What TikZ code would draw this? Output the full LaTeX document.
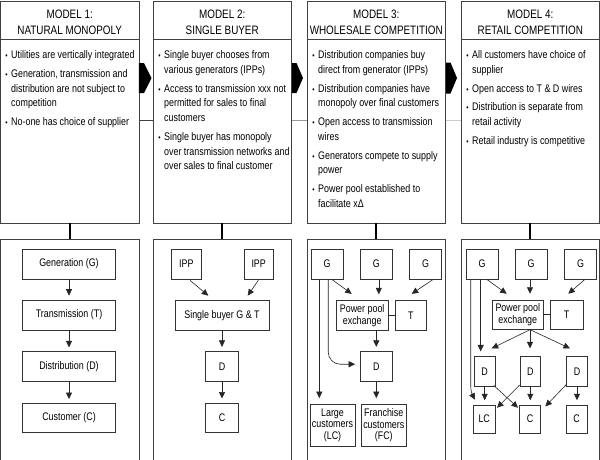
\documentclass[tikz,border=0pt]{standalone}
\usepackage{fontspec}
\setmainfont{Liberation Sans}[FakeStretch=0.81]
\usetikzlibrary{arrows.meta,calc}
\begin{document}
\begin{tikzpicture}[x=1pt,y=-1pt,
  panel/.style={draw=black!75, fill=white, line width=0.8pt, inner sep=0pt, minimum width=138.5pt},
  box/.style={draw=black!80, fill=white, line width=0.6pt, inner sep=0pt, align=center, font=\fontsize{11}{11.7}\selectfont, text=black},
  bsz/.style 2 args={minimum width=#1, minimum height=#2},
  ttl/.style={align=center, font=\fontsize{12.2}{16}\selectfont, inner sep=0pt, text=black},
  itm/.style={anchor=base west, align=left, inner sep=0pt, font=\fontsize{11}{14.8}\selectfont, text=black},
  bul/.style={anchor=base, inner sep=0pt, font=\fontsize{8}{8}\selectfont, text=black},
  arr/.style={-{Triangle[length=6.5pt,width=6pt]}, line width=0.6pt, draw=black!85},
  link/.style={line width=2pt, draw=black},
  conn/.style={line width=0.6pt, draw=black!85},
  divider/.style={line width=0.8pt, draw=black!75},
  chev/.style={fill=black, draw=none},
]
\useasboundingbox (0,0) rectangle (600,459);
\fill[white] (0,0) rectangle (600,459);

% faint background rule
\draw[black!75, line width=0.8pt] (138,120) -- (153,120);
\draw[black!40, line width=0.8pt] (291,120) -- (307,120);
\draw[black!20, line width=0.8pt] (445,120) -- (462,120);

% top panels
\node[panel, minimum height=222pt] (top1) at (69.7,112) {};
\node[panel, minimum height=222pt] (top2) at (222.2,112) {};
\node[panel, minimum height=222pt] (top3) at (376.2,112) {};
\node[panel, minimum height=222pt] (top4) at (530.3,112) {};
\foreach \p in {top1,top2,top3,top4}{
  \draw[divider] ($(\p.north west)+(0,39)$) -- ($(\p.north east)+(0,39)$);
}
% bottom panels
\node[panel, minimum height=223pt] (bot1) at (69.7,350.5) {};
\node[panel, minimum height=223pt] (bot2) at (222.2,350.5) {};
\node[panel, minimum height=223pt] (bot3) at (376.2,350.5) {};
\node[panel, minimum height=223pt] (bot4) at (530.3,350.5) {};
\draw[link] (top1.south) -- (bot1.north);
\draw[link] (top2.south) -- (bot2.north);
\draw[link] (top3.south) -- (bot3.north);
\draw[link] (top4.south) -- (bot4.north);

% chevrons
\fill[chev] (138.9,63) -- (144,63) -- (151.5,78) -- (144,93) -- (138.9,93) -- cycle;
\fill[chev] (292,63) -- (296.5,63) -- (303,78) -- (296.5,93) -- (292,93) -- cycle;
\fill[chev] (446,62.5) -- (450.5,62.5) -- (457,78) -- (450.5,93.5) -- (446,93.5) -- cycle;

% titles
\node[ttl] (h1) at (69.7,22) {MODEL 1:\\NATURAL MONOPOLY};
\node[ttl] (h2) at (222.2,22) {MODEL 2:\\SINGLE BUYER};
\node[ttl] (h3) at (376.2,22) {MODEL 3:\\WHOLESALE COMPETITION};
\node[ttl] (h4) at (530.3,22) {MODEL 4:\\RETAIL COMPETITION};

% panel 1 bullets (node placed at baseline of its last line)
\node[bul] (b11) at (6.5,58.5) {\textbullet};
\node[itm] (i11) at (11,58.5) {Utilities are vertically integrated};
\node[bul] (b12) at (6.5,77.2) {\textbullet};
\node[itm] (i12) at (11,106.8) {Generation, transmission and\\distribution are not subject to\\competition};
\node[bul] (b13) at (6.5,125.5) {\textbullet};
\node[itm] (i13) at (11,125.5) {No-one has choice of supplier};

% panel 2 bullets
\node[bul] (b21) at (159.5,58.5) {\textbullet};
\node[itm] (i21) at (164,73.3) {Single buyer chooses from\\various generators (IPPs)};
\node[bul] (b22) at (159.5,92) {\textbullet};
\node[itm] (i22) at (164,121.6) {Access to transmission xxx not\\permitted for sales to final\\customers};
\node[bul] (b23) at (159.5,140.3) {\textbullet};
\node[itm] (i23) at (164,169.9) {Single buyer has monopoly\\over transmission networks and\\over sales to final customer};

% panel 3 bullets
\node[bul] (b31) at (313.5,58.5) {\textbullet};
\node[itm] (i31) at (318,73.3) {Distribution companies buy\\direct from generator (IPPs)};
\node[bul] (b32) at (313.5,92) {\textbullet};
\node[itm] (i32) at (318,106.8) {Distribution companies have\\monopoly over final customers};
\node[bul] (b33) at (313.5,125.5) {\textbullet};
\node[itm] (i33) at (318,140.3) {Open access to transmission\\wires};
\node[bul] (b34) at (313.5,159) {\textbullet};
\node[itm] (i34) at (318,173.8) {Generators compete to supply\\power};
\node[bul] (b35) at (313.5,192.5) {\textbullet};
\node[itm] (i35) at (318,207.3) {Power pool established to\\facilitate xΔ};

% panel 4 bullets
\node[bul] (b41) at (467.5,58.5) {\textbullet};
\node[itm] (i41) at (472,73.3) {All customers have choice of\\supplier};
\node[bul] (b42) at (467.5,92) {\textbullet};
\node[itm] (i42) at (472,92) {Open access to T \& D wires};
\node[bul] (b43) at (467.5,110.7) {\textbullet};
\node[itm] (i43) at (472,125.5) {Distribution is separate from\\retail activity};
\node[bul] (b44) at (467.5,144.2) {\textbullet};
\node[itm] (i44) at (472,144.2) {Retail industry is competitive};

% ---- panel 1 lower
\node[box, bsz={93pt}{30pt}] (g1) at (69,264) {Generation (G)};
\node[box, bsz={93pt}{30pt}] (t1) at (69,315) {Transmission (T)};
\node[box, bsz={93pt}{30pt}] (d1) at (69,366.7) {Distribution (D)};
\node[box, bsz={93pt}{29.4pt}] (c1) at (69,418) {Customer (C)};
\draw[arr] (g1.south) -- ($(t1.north)+(0,-4)$);
\draw[arr] (t1.south) -- ($(d1.north)+(0,-4)$);
\draw[arr] (d1.south) -- ($(c1.north)+(0,-4)$);

% ---- panel 2 lower
\node[box, bsz={29.3pt}{30pt}] (ippa) at (186.3,264) {IPP};
\node[box, bsz={29.3pt}{30pt}] (ippb) at (258.7,264) {IPP};
\node[box, bsz={94pt}{29.3pt}] (sb) at (222,315.3) {Single buyer G \& T};
\node[box, bsz={32.6pt}{30pt}] (d2) at (222,366.7) {D};
\node[box, bsz={32.6pt}{29.4pt}] (c2) at (222,418) {C};
\draw[arr] ($(ippa.south)+(3.7,1)$) -- ($(sb.north)+(-13.7,-4.7)$);
\draw[arr] ($(ippb.south)+(-0.4,1)$) -- ($(sb.north)+(25.7,-4.7)$);
\draw[arr] (sb.south) -- ($(d2.north)+(0,-4.5)$);
\draw[arr] (d2.south) -- ($(c2.north)+(0,-4.5)$);

% ---- panel 3 lower
\node[box, bsz={32.3pt}{30pt}] (g3a) at (327.2,264) {G};
\node[box, bsz={32.3pt}{30pt}] (g3b) at (376.3,264) {G};
\node[box, bsz={32.3pt}{30pt}] (g3c) at (425.5,264) {G};
\node[box, bsz={52.3pt}{29.3pt}] (ppe3) at (362.2,315.3) {Power pool\\exchange};
\node[box, bsz={31.7pt}{29.3pt}] (t3) at (410.8,315.3) {T};
\node[box, bsz={32.7pt}{30pt}] (d3) at (376.3,366.7) {D};
\node[box, bsz={45pt}{42.7pt}] (lc3) at (332.5,425.3) {Large\\customers\\(LC)};
\node[box, bsz={44.3pt}{42.7pt}] (fc3) at (383.8,425.3) {Franchise\\customers\\(FC)};
\draw[arr] ($(g3a.south)+(4.5,0)$) -- ($(ppe3.north)+(-10.5,-6.5)$);
\draw[arr] ($(g3b.south)+(2.5,0)$) -- ($(g3b.south |- ppe3.north)+(2.5,-6)$);
\draw[arr] ($(g3c.south)+(7.8,0)$) -- ($(t3.north)+(0.9,-6.5)$);
\draw[conn] (ppe3.east) -- (t3.west);
\draw[arr] (d3.north |- ppe3.south) -- ($(d3.north)+(0,-4.5)$);
\draw[arr] ($(g3a.south)+(1,0)$) -- (328.2,352) .. controls (328.2,358.6) and (333.5,364.2) .. (340,364.2) -- ($(d3.west)+(-4.5,-2.5)$);
\draw[arr] ($(g3a.south)+(-7.9,0)$) -- ($(lc3.north)+(-13.2,-5.5)$);
\draw[arr] (d3.south) -- ($(d3.south |- fc3.north)+(0,-5.5)$);

% ---- panel 4 lower
\node[box, bsz={32.3pt}{30pt}] (g4a) at (482.2,264) {G};
\node[box, bsz={32.3pt}{30pt}] (g4b) at (531,264) {G};
\node[box, bsz={32.3pt}{30pt}] (g4c) at (580.5,264) {G};
\node[box, bsz={51pt}{29.3pt}] (ppe4) at (517.8,314.7) {Power pool\\exchange};
\node[box, bsz={33.3pt}{29.3pt}] (t4) at (566.7,314.7) {T};
\node[box, bsz={20.7pt}{30pt}] (d4a) at (484.7,371.7) {D};
\node[box, bsz={20.7pt}{30pt}] (d4b) at (530.3,371.7) {D};
\node[box, bsz={20.7pt}{30pt}] (d4c) at (577,371.7) {D};
\node[box, bsz={21.7pt}{28.3pt}] (lc4) at (484.2,419.2) {LC};
\node[box, bsz={21.4pt}{28.3pt}] (c4a) at (530,419.2) {C};
\node[box, bsz={21.3pt}{28.3pt}] (c4b) at (576.7,419.2) {C};
\draw[arr] ($(g4a.south)+(4.5,0)$) -- ($(ppe4.north)+(-11.1,-6)$);
\draw[arr] ($(g4b.south)+(-1,0)$) -- ($(g4b.south |- ppe4.north)+(-1,-6)$);
\draw[arr] ($(g4c.south)+(4.5,0)$) -- ($(t4.north)+(1.6,-6)$);
\draw[conn] (ppe4.east) -- (t4.west);
\draw[arr] ($(g4a.south)+(-1.5,0)$) -- ($(d4a.north)+(-4,-5)$);
\draw[arr] ($(g4a.south)+(-11.5,0)$) -- (470.7,386) .. controls (470.7,392) and (473,396) .. ($(lc4.north)+(-9.2,-5)$);
\draw[arr] ($(ppe4.south)+(12.2,0)$) -- ($(d4a.north)+(7,-8)$);
\draw[arr] ($(ppe4.south)+(12.2,0)$) -- ($(d4b.north)+(-0.3,-8)$);
\draw[arr] ($(ppe4.south)+(12.2,0)$) -- ($(d4c.north)+(-7,-8)$);
\draw[arr] (d4a.south) -- ($(lc4.north)+(0.5,-4.5)$);
\draw[arr] ($(d4a.south east)+(-1.5,-1.5)$) -- ($(c4a.north west)+(-1,3)$);
\draw[arr] ($(d4b.south west)+(0,-2)$) -- ($(lc4.north east)+(1.7,3)$);
\draw[arr] (d4b.south) -- ($(c4a.north)+(0.3,-4.5)$);
\draw[arr] ($(d4c.south west)+(0,-2.5)$) -- ($(c4a.north east)+(4.3,1.7)$);
\draw[arr] (d4c.south) -- ($(c4b.north)+(0.3,-4.5)$);
\end{tikzpicture}
\end{document}
